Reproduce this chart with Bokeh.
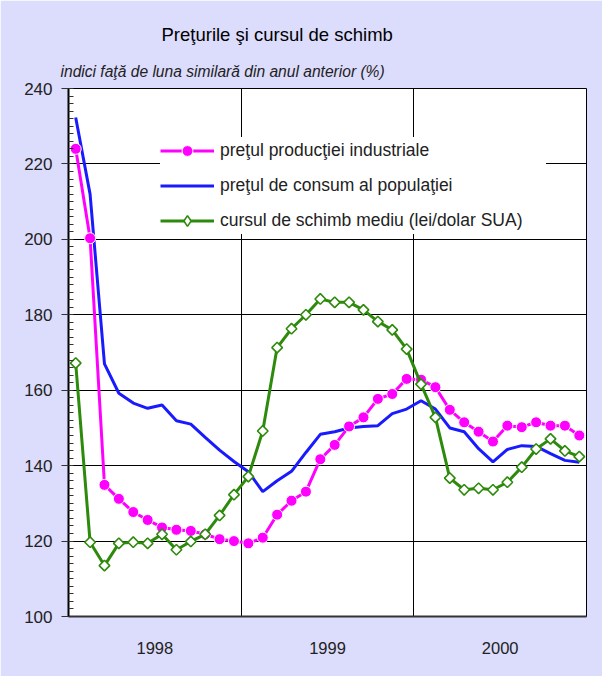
import numpy as np
from bokeh.plotting import figure
from bokeh.models import (Range1d, SingleIntervalTicker, FixedTicker, Legend,
                          LegendItem, Title)
from bokeh.embed import file_html
from bokeh.resources import INLINE

# ---------------- data ----------------
years = ["1998", "1999", "2000"]
title_text = "Preţurile şi cursul de schimb"
subtitle_text = "indici faţă de luna similară din anul anterior (%)"
series_names = ["preţul producţiei industriale",
                "preţul de consum al populaţiei",
                "cursul de schimb mediu (lei/dolar SUA)"]

# monthly values, Jan 1998 .. Dec 2000
pret_productie = [224.0, 200.3, 134.9, 131.2, 127.7, 125.6, 123.6, 123.0, 122.7, 121.8, 120.5, 120.0,
                  119.4, 120.9, 127.0, 130.7, 133.1, 141.7, 145.5, 150.4, 152.8, 157.7, 159.0, 163.0,
                  162.8, 160.8, 154.8, 151.5, 149.0, 146.4, 150.6, 150.2, 151.5, 150.6, 150.6, 148.0]
pret_consum = [232.3, 212.0, 167.0, 159.2, 156.6, 155.2, 156.1, 151.9, 151.0, 147.5, 144.1, 141.1,
               138.4, 133.1, 136.0, 138.5, 143.5, 148.3, 149.0, 150.0, 150.4, 150.6, 153.8, 155.0,
               157.2, 155.0, 150.0, 149.0, 144.5, 141.0, 144.3, 145.3, 145.1, 143.2, 141.4, 140.9]
curs_schimb = [167.2, 119.7, 113.5, 119.4, 119.7, 119.4, 121.8, 117.7, 119.9, 121.8, 126.8, 132.3,
               137.1, 149.2, 171.3, 176.3, 180.0, 184.2, 183.3, 183.3, 181.3, 178.2, 176.0, 170.9,
               161.6, 152.8, 136.7, 133.6, 134.0, 133.6, 135.6, 139.6, 144.4, 147.1, 143.9, 142.4]

n_months = len(pret_productie)
x = np.arange(n_months) + 0.5  # mid-month positions

C_MAG = "#FF00FF"
C_BLUE = "#1A1AFF"
C_GREEN = "#2E8A0C"
BG = "#DCDCFC"
FONT = "Liberation Sans"

p = figure(width=602, height=676, output_backend="svg", toolbar_location=None,
           x_range=Range1d(0, n_months), y_range=Range1d(100, 240),
           min_border_left=68, min_border_right=16, min_border_top=88, min_border_bottom=60)
p.border_fill_color = BG
p.background_fill_color = "white"
p.outline_line_color = "black"
p.outline_line_width = 1

# axes
yax = p.yaxis[0]
yax.ticker = SingleIntervalTicker(interval=20, num_minor_ticks=10)
yax.major_tick_out = 7
yax.major_tick_in = 0
yax.minor_tick_in = 5
yax.minor_tick_out = 0
yax.major_tick_line_color = "#333333"
yax.minor_tick_line_color = "#333333"
yax.axis_line_color = "black"
yax.axis_line_width = 2
yax.major_label_text_font = FONT
yax.major_label_text_font_size = "17px"
yax.major_label_text_color = "#222222"
yax.major_label_standoff = 9

xax = p.xaxis[0]
xax.ticker = FixedTicker(ticks=[12 * i + 6 for i in range(len(years))])
xax.major_label_overrides = {12 * i + 6: y for i, y in enumerate(years)}
xax.major_tick_line_color = None
xax.minor_tick_line_color = None
xax.axis_line_color = "#333333"
xax.axis_line_width = 2
xax.major_label_text_font = FONT
xax.major_label_text_font_size = "16.5px"
xax.major_label_text_color = "#222222"
xax.major_label_standoff = 19

p.ygrid.ticker = SingleIntervalTicker(interval=20)
p.ygrid.grid_line_color = "black"
p.ygrid.grid_line_width = 1
p.xgrid.ticker = FixedTicker(ticks=[12 * i for i in range(1, len(years))])
p.xgrid.grid_line_color = "black"
p.xgrid.grid_line_width = 1

# series
l_blue = p.line(x, pret_consum, color=C_BLUE, line_width=3)
l_mag = p.line(x, pret_productie, color=C_MAG, line_width=3)
s_mag = p.scatter(x, pret_productie, marker="circle", size=11, fill_color=C_MAG,
                  line_color="white", line_width=1)
l_green = p.line(x, curs_schimb, color=C_GREEN, line_width=3)
s_green = p.scatter(x, curs_schimb, marker="square", angle=np.pi / 4, size=7.5,
                    fill_color="white", line_color=C_GREEN, line_width=1.6)
# legend-only glyph (the legend ignores marker angle); holds no visible point
s_green_leg = p.scatter([float("nan")], [float("nan")], marker="diamond", size=10,
                        fill_color="white", line_color=C_GREEN, line_width=1.6)

legend = Legend(items=[LegendItem(label=series_names[0], renderers=[l_mag, s_mag]),
                       LegendItem(label=series_names[1], renderers=[l_blue]),
                       LegendItem(label=series_names[2], renderers=[l_green, s_green_leg])],
                location=(92, 382))
legend.background_fill_color = "white"
legend.background_fill_alpha = 1
legend.border_line_color = None
legend.label_text_font = FONT
legend.label_text_font_size = "17.5px"
legend.label_text_color = "#222222"
legend.glyph_width = 54
legend.glyph_height = 27
legend.label_height = 27
legend.label_width = 326
legend.spacing = 8
legend.padding = 10
legend.label_standoff = 6
legend.margin = 0
p.add_layout(legend)

subtitle = Title(text=subtitle_text, align="left", offset=-8, standoff=18,
                 text_font=FONT, text_font_size="15.6px", text_font_style="italic",
                 text_color="#222222")
title = Title(text=title_text, align="left", offset=93, standoff=14,
              text_font=FONT, text_font_size="18.5px", text_font_style="normal",
              text_color="black")
p.add_layout(subtitle, "above")
p.add_layout(title, "above")

open("out.html", "w").write(file_html(p, INLINE))
